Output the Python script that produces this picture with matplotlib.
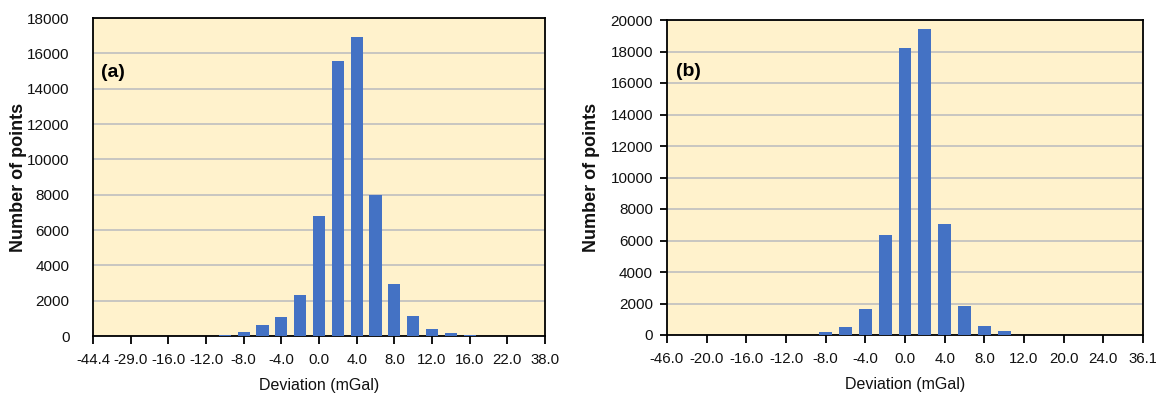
import matplotlib
matplotlib.use("Agg")
import matplotlib.pyplot as plt
import numpy as np

# ---- data ----
# panel (a): 25 categories, only every second one labelled
labels_a = ["-44.4", "-29.0", "-16.0", "-12.0", "-8.0", "-4.0", "0.0", "4.0",
            "8.0", "12.0", "16.0", "22.0", "38.0"]
counts_a = [0, 0, 0, 0, 0, 0, 0, 80, 230, 620, 1100, 2300, 6820, 15550,
            16900, 7990, 2960, 1150, 370, 180, 80, 0, 0, 0, 0]

# panel (b)
labels_b = ["-46.0", "-20.0", "-16.0", "-12.0", "-8.0", "-4.0", "0.0", "4.0",
            "8.0", "12.0", "20.0", "24.0", "36.1"]
counts_b = [0, 0, 0, 0, 0, 0, 0, 0, 170, 530, 1680, 6330, 18200, 19450,
            7050, 1820, 540, 240, 0, 0, 0, 0, 0, 0, 0]

ymax_a, ystep_a = 18000, 2000
ymax_b, ystep_b = 20000, 2000

BAR = "#4472C4"
BG = "#FFF2CC"
GRID = "#BFBFBF"
FONT = ["Liberation Sans", "DejaVu Sans"]

fig = plt.figure(figsize=(11.56, 4.12), dpi=100)
fig.patch.set_facecolor("white")

axA = fig.add_axes([93/1156, 1-336/412, (545-93)/1156, (336-18)/412])
axB = fig.add_axes([667/1156, 1-335/412, (1143-667)/1156, (335-20)/412])


def draw(ax, counts, labels, ymax, ystep, tag, tag_y, yticks_marks):
    x = np.arange(len(counts))
    ax.set_facecolor(BG)
    ax.bar(x, counts, width=0.65, color=BAR, zorder=3)
    ax.set_xlim(0, len(counts) - 1)
    ax.set_ylim(0, ymax)
    ax.set_yticks(np.arange(0, ymax + 1, ystep))
    ax.yaxis.grid(True, color=GRID, linewidth=1.2, zorder=1)
    ax.set_axisbelow(True)
    ax.set_xticks(x[::2])
    ax.set_xticklabels(labels)
    for sp in ax.spines.values():
        sp.set_color("black")
        sp.set_linewidth(1.3)
    ax.tick_params(axis="x", direction="out", length=6, width=1.3,
                   pad=6, labelsize=10.8, labelcolor="#111111")
    if yticks_marks:
        ax.tick_params(axis="y", direction="out", length=5, width=1.3,
                       pad=5, labelsize=11, labelcolor="#111111")
    else:
        ax.tick_params(axis="y", length=0, pad=17, labelsize=11,
                       labelcolor="#111111")
    for lab in ax.get_xticklabels() + ax.get_yticklabels():
        lab.set_family(FONT)
    ax.set_xlabel("Deviation (mGal)", family=FONT, fontsize=11.5, labelpad=8,
                  color="#111111")
    ax.set_ylabel("Number of points", family=FONT, fontweight="bold",
                  fontsize=13, color="#111111")
    ax.text(0.018, tag_y, tag, transform=ax.transAxes, family=FONT,
            fontweight="bold", fontsize=14, va="center", ha="left")


draw(axA, counts_a, labels_a, ymax_a, ystep_a, "(a)", 0.83, False)
draw(axB, counts_b, labels_b, ymax_b, ystep_b, "(b)", 0.835, True)

axA.yaxis.set_label_coords(-66/452, 0.5)
axB.yaxis.set_label_coords(-67/476, 0.5)

fig.savefig("out.png", dpi=100, facecolor="white")
